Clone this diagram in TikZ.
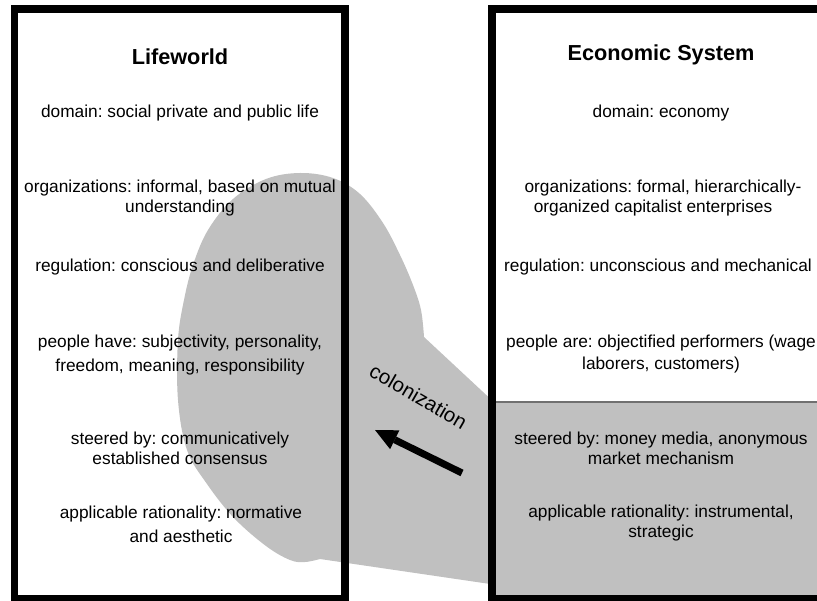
\documentclass[tikz,border=0pt]{standalone}
\usepackage{fontspec}
\setmainfont{Liberation Sans}
\usetikzlibrary{arrows.meta}
\definecolor{blobgray}{HTML}{C0C0C0}
\definecolor{edgegray}{HTML}{707070}
\frenchspacing
\begin{document}
\frenchspacing
\begin{tikzpicture}[x=1pt,y=-1pt,
  body/.style={font=\fontsize{17.3}{20}\selectfont, align=center, inner sep=0pt, text=black},
  heading/.style={font=\fontsize{21.7}{26}\selectfont\bfseries, inner sep=0pt, text=black},
  frame/.style={draw=black, line width=7.5pt, inner sep=0pt, minimum height=590pt},
  colarrow/.style={line width=7pt, -{Triangle[length=22pt,width=21pt,line width=0pt]}}
]
\clip (0,0) rectangle (817,601);
\fill[white] (0,0) rectangle (817,601);
% colonization blob
\fill[blobgray] (424,337) -- plot[smooth, tension=0.6] coordinates {(424,337) (421,310) (413,285) (400,255) (383,223) (360,194) (333,178) (300,173) (266,179) (233,199) (208,230) (193,265) (184,300) (178,340) (178,400) (187,450) (207,484) (234,518) (266,546) (290,560) (305,562) (320,559)} -- (497,585) -- (497,405) -- cycle;
% shaded part of economic system
\fill[blobgray] (492,402) rectangle (830,599);
\draw[edgegray, line width=1.5pt] (492,402) -- (830,402);
% frames
\node[frame, minimum width=330.5pt] (lifebox) at (179.75,304) {};
\node[frame, minimum width=338pt] (econbox) at (661,304) {};
% Lifeworld texts
\node[heading] (lt) at (180,57) {Lifeworld};
\node[body] (l1) at (180,113) {domain: social private and public life};
\node[body] (l2) at (180,198) {organizations: informal, based on mutual\\understanding};
\node[body] (l3) at (180,267) {regulation: conscious and deliberative};
\node[body] (l4) at (180,355) {people have: subjectivity, personality,\\[4pt]freedom, meaning, responsibility};
\node[body] (l5) at (180,448) {steered by: communicatively\\established consensus};
\node[body] (l6) at (181,524) {applicable rationality: normative\\[4pt]and aesthetic};
% Economic system texts
\node[heading] (rt) at (661,55) {Economic System};
\node[body] (r1) at (661,113) {domain: economy};
\node[body] (r2) at (658,198) {\hspace*{10pt}organizations: formal, hierarchically-\\organized capitalist enterprises\hspace*{10pt}};
\node[body] (r3) at (658,267) {regulation: unconscious and mechanical};
\node[body] (r4) at (661,354) {people are: objectified performers (wage\\[2pt]laborers, customers)};
\node[body] (r5) at (661,448) {steered by: money media, anonymous\\market mechanism};
\node[body] (r6) at (661,523) {applicable rationality: instrumental,\\strategic};
% colonization arrow
\coordinate (atail) at (462,473);
\coordinate (atip) at (375,430);
\draw[colarrow] (atail) -- (atip);
\node[rotate=-30, font=\fontsize{20.5}{24}\selectfont, inner sep=0pt] (col) at (418.5,396.5) {colonization};
\end{tikzpicture}
\end{document}
